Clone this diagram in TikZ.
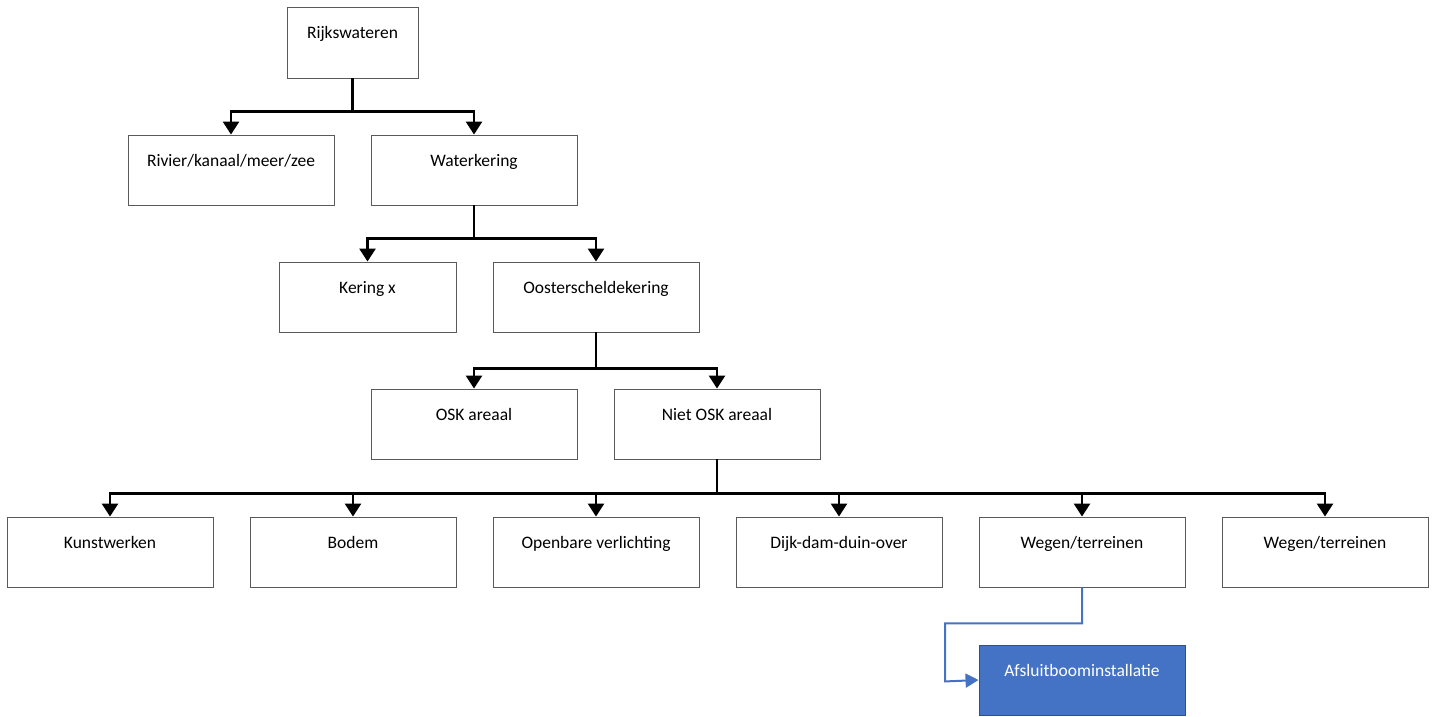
\documentclass[tikz,border=0pt]{standalone}
\usepackage{fontspec}
\setmainfont{Carlito}
\usepackage{tikz}
\usetikzlibrary{arrows.meta}
\definecolor{boxgray}{RGB}{90,90,90}
\definecolor{linkblue}{RGB}{68,114,196}
\tikzset{
  box/.style={draw=boxgray, line width=0.9pt, fill=white, inner sep=0pt,
    minimum width=206pt, minimum height=70pt, text height=31pt, text depth=39pt,
    font=\fontsize{17.5}{21}\selectfont},
  selbox/.style={box, fill=linkblue, draw=linkblue!70!black, text=white},
  conn/.style={line width=2.6pt, -{Triangle[width=16pt,length=13pt]}},
  bluelink/.style={draw=linkblue, line width=2pt, -{Triangle[width=14pt,length=13pt]}},
}

\begin{document}
\begin{tikzpicture}[x=1pt,y=1pt,yscale=-1,xscale=1]
\useasboundingbox (0,0) rectangle (1437,716);
% boxes
\node[box, minimum width=131pt, minimum height=71pt, text depth=40pt] (rijks) at (352.5,42.5) {Rijkswateren};
\node[box] (rivier) at (231,170) {Rivier/kanaal/meer/zee};
\node[box] (waterkering) at (474,170) {Waterkering};
\node[box, minimum width=177pt] (keringx) at (367.5,297) {Kering x};
\node[box] (osk) at (596,297) {Oosterscheldekering};
\node[box] (oskareaal) at (474,424) {OSK areaal};
\node[box] (nietosk) at (717,424) {Niet OSK areaal};
\node[box] (kunst) at (110,552) {Kunstwerken};
\node[box] (bodem) at (353,552) {Bodem};
\node[box] (verlichting) at (596,552) {Openbare verlichting};
\node[box] (dijk) at (839,552) {Dijk-dam-duin-over};
\node[box] (wegen) at (1082,552) {Wegen/terreinen};
\node[box] (wegentwee) at (1325,552) {Wegen/terreinen};
\node[selbox] (afsluit) at (1082,680) {Afsluitboominstallatie};
% connectors
\draw[conn] (rijks.south) -- ++(0,33) -| (rivier.north);
\draw[conn] (rijks.south) -- ++(0,33) -| (waterkering.north);
\draw[conn] (waterkering.south) -- ++(0,33) -| (keringx.north);
\draw[conn] (waterkering.south) -- ++(0,33) -| (osk.north);
\draw[conn] (osk.south) -- ++(0,36) -| (oskareaal.north);
\draw[conn] (osk.south) -- ++(0,36) -| (nietosk.north);
\foreach \child in {kunst,bodem,verlichting,dijk,wegen,wegentwee}
  \draw[conn] (nietosk.south) -- ++(0,34) -| (\child.north);
\draw[bluelink] (wegen.south) -- ++(0,36) -| ++(-137,58) -- (afsluit.west);
\end{tikzpicture}
\end{document}
